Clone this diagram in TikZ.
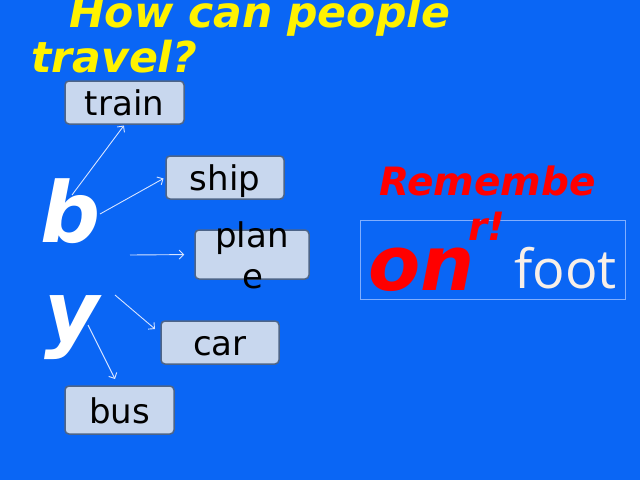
\documentclass[tikz,border=0pt]{standalone}
\usepackage{fontspec}
\setmainfont{DejaVu Sans}
\newfontfamily\footfont{Open Sans}
\usetikzlibrary{arrows.meta}
\definecolor{bgblue}{HTML}{0A66F5}
\definecolor{boxfill}{HTML}{C8D7EE}
\definecolor{boxline}{HTML}{4D6488}
\definecolor{arrcol}{HTML}{D8E4FF}
\definecolor{framecol}{HTML}{80AEFF}
\definecolor{footcol}{HTML}{F7EFE8}
\tikzset{
  item/.style={draw=boxline, fill=boxfill, line width=1.5pt, rounded corners=4pt,
    inner sep=0pt, font=\fontsize{34}{36}\selectfont, text height=29pt, text depth=3pt},
  arr/.style={draw=arrcol, line width=0.9pt, -{Straight Barb[length=4.5pt,width=9pt]}},
  txt/.style={inner sep=0pt, anchor=base west},
  bigtitle/.style={txt, text=yellow, font=\fontsize{42.6}{44}\selectfont\bfseries\itshape},
  byletter/.style={txt, text=white, font=\fontsize{84}{90}\selectfont\bfseries\itshape},
  redtxt/.style={txt, text=red, font=\fontsize{39}{40}\selectfont\bfseries\itshape}
}
\begin{document}
\begin{tikzpicture}[x=1pt,y=-1pt]
\fill[bgblue] (0,0) rectangle (640,480);
\useasboundingbox (0,0) rectangle (640,480);
% title
\node[bigtitle] (t1) at (69,27) {How can people};
\node[bigtitle] (t2) at (31,72) {travel?};
% by
\node[byletter] (b) at (40,242) {b};
\node[byletter] (y) at (44,341) {y};
% boxes
\node[item, minimum width=119pt, minimum height=43pt] (train) at (124.5,102.5) {train};
\node[item, minimum width=118pt, minimum height=43pt] (ship) at (225,177.5) {ship};
\node[item, minimum width=114pt, minimum height=49pt] (plane) at (252,254.5) {};
\node[txt, anchor=base, font=\fontsize{34}{36}\selectfont] (planeA) at (252,247) {plan};
\node[txt, anchor=base, font=\fontsize{34}{36}\selectfont] (planeB) at (253,288) {e};
\node[item, minimum width=118pt, minimum height=43pt] (car) at (220,342.5) {car};
\node[item, minimum width=109pt, minimum height=48pt] (bus) at (119.5,410) {bus};
% arrows
\coordinate (s1) at (72,195);
\coordinate (s2) at (100,214);
\coordinate (s3) at (130,255);
\coordinate (s4) at (115,295);
\coordinate (e4) at (155,329);
\coordinate (s5) at (88,325);
\coordinate (e5) at (115,379);
\draw[arr, shorten >=1pt] (s1) -- (train.south);
\draw[arr, shorten >=2pt] (s2) -- (ship.west);
\draw[arr, shorten >=10pt] (s3) -- (plane.west);
\draw[arr] (s4) -- (e4);
\draw[arr] (s5) -- (e5);
% right part
\node[draw=framecol, line width=1pt, minimum width=265pt, minimum height=79pt, inner sep=0pt] (frame) at (492.5,259.5) {};
\node[redtxt] (rem1) at (379,195) {Remembe};
\node[redtxt] (rem2) at (468,240) {r!};
\node[txt, text=red, font=\fontsize{76}{80}\selectfont\bfseries\itshape] (on) at (368,290) {on};
\node[txt, text=footcol, font=\footfont\fontsize{54}{56}\selectfont] (foot) at (514,288) {foot};
\end{tikzpicture}
\end{document}
